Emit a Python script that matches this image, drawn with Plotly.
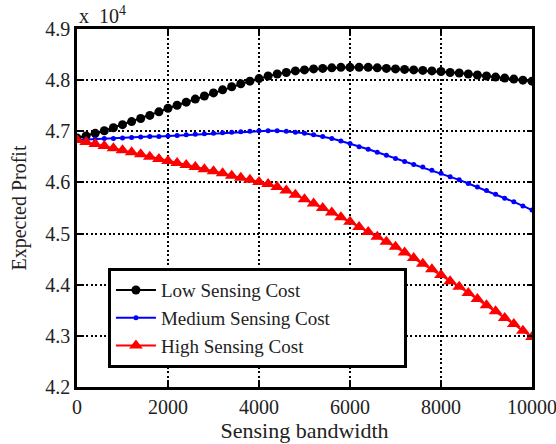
import plotly.graph_objects as go

# Sensing bandwidth (x) and expected profit (in units of 10^4)
bandwidth = list(range(0, 10001, 200))

low_cost = [4.687, 4.691, 4.696, 4.701, 4.707, 4.713, 4.719, 4.725, 4.731, 4.738,
            4.745, 4.751, 4.757, 4.763, 4.769, 4.775, 4.781, 4.787, 4.793, 4.798,
            4.803, 4.808, 4.812, 4.815, 4.818, 4.820, 4.822, 4.823, 4.824, 4.825,
            4.825, 4.825, 4.825, 4.824, 4.823, 4.822, 4.821, 4.820, 4.819, 4.818,
            4.817, 4.815, 4.814, 4.812, 4.810, 4.808, 4.806, 4.804, 4.802, 4.800,
            4.798]

medium_cost = [4.683, 4.684, 4.685, 4.686, 4.686, 4.687, 4.688, 4.689, 4.690, 4.690,
               4.691, 4.692, 4.693, 4.694, 4.695, 4.696, 4.697, 4.698, 4.699, 4.700,
               4.701, 4.701, 4.701, 4.700, 4.698, 4.696, 4.693, 4.690, 4.686, 4.681,
               4.676, 4.670, 4.665, 4.659, 4.653, 4.647, 4.641, 4.635, 4.630, 4.624,
               4.618, 4.611, 4.605, 4.598, 4.591, 4.584, 4.577, 4.569, 4.562, 4.554,
               4.546]

high_cost = [4.683, 4.679, 4.675, 4.671, 4.667, 4.663, 4.659, 4.655, 4.650, 4.646,
             4.642, 4.638, 4.634, 4.630, 4.626, 4.622, 4.618, 4.613, 4.609, 4.605,
             4.601, 4.597, 4.591, 4.584, 4.576, 4.567, 4.559, 4.550, 4.541, 4.532,
             4.523, 4.513, 4.503, 4.494, 4.484, 4.474, 4.463, 4.452, 4.441, 4.430,
             4.419, 4.407, 4.396, 4.384, 4.372, 4.360, 4.348, 4.335, 4.323, 4.310,
             4.298]

x_ticks = [0, 2000, 4000, 6000, 8000, 10000]
x_tick_labels = ["0", "2000", "4000", "6000", "8000", "10000"]
y_ticks = [4.2, 4.3, 4.4, 4.5, 4.6, 4.7, 4.8, 4.9]
y_tick_labels = ["4.2", "4.3", "4.4", "4.5", "4.6", "4.7", "4.8", "4.9"]

FONT = "'Liberation Serif', 'Times New Roman', 'DejaVu Serif', serif"
TXT = "#222"

fig = go.Figure()
fig.add_trace(go.Scatter(x=bandwidth, y=low_cost, mode="lines+markers",
                         name="Low Sensing Cost",
                         line=dict(color="black", width=2),
                         marker=dict(symbol="circle", size=9, color="black")))
fig.add_trace(go.Scatter(x=bandwidth, y=medium_cost, mode="lines+markers",
                         name="Medium Sensing Cost",
                         line=dict(color="#0000ff", width=2),
                         marker=dict(symbol="circle", size=5, color="#0000ff")))
fig.add_trace(go.Scatter(x=bandwidth, y=high_cost, mode="lines+markers",
                         name="High Sensing Cost",
                         line=dict(color="#ff0000", width=2),
                         marker=dict(symbol="triangle-up", size=12, color="#ff0000")))

axis_common = dict(
    showline=True, linecolor="black", linewidth=2.5, mirror="ticks",
    ticks="inside", ticklen=5, tickwidth=2, tickcolor="black",
    showgrid=True, gridcolor="black", gridwidth=1.5, griddash="2px,2.5px",
    zeroline=False, tickfont=dict(family=FONT, size=20, color=TXT),
    ticklabeloverflow="allow", automargin=False,
)

fig.update_xaxes(range=[0, 10000], tickvals=x_ticks, ticktext=x_tick_labels,
                 title=dict(text="Sensing bandwidth", font=dict(family=FONT, size=22, color=TXT),
                            standoff=4),
                 **axis_common)
fig.update_yaxes(range=[4.2, 4.9], tickvals=y_ticks, ticktext=y_tick_labels,
                 title=dict(text="Expected Profit", font=dict(family=FONT, size=20, color=TXT),
                            standoff=14),
                 **axis_common)

fig.add_annotation(xref="paper", yref="paper", x=0, y=1, xanchor="left", yanchor="bottom",
                   text="x\u00a0\u00a010<sup>4</sup>", showarrow=False, yshift=0,
                   font=dict(family=FONT, size=20, color=TXT))

fig.update_layout(
    width=556, height=444,
    margin=dict(l=77, r=24, t=29, b=57, autoexpand=False),
    paper_bgcolor="white", plot_bgcolor="white",
    showlegend=True,
    legend=dict(orientation="h", x=0.068, y=0.332, xanchor="left", yanchor="top",
                bgcolor="white", bordercolor="black", borderwidth=3,
                font=dict(family=FONT, size=19, color=TXT),
                itemwidth=40, tracegroupgap=0,
                entrywidth=238, entrywidthmode="pixels"),
)

fig.write_html("out.html")
